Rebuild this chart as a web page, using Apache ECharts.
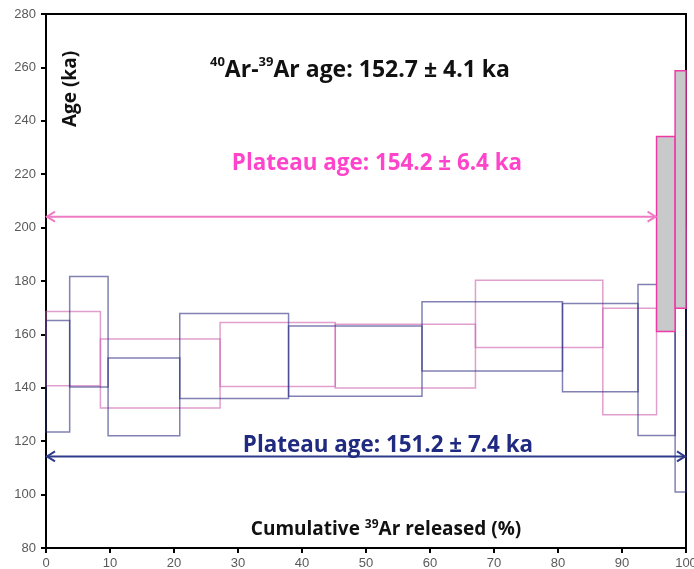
<!DOCTYPE html>
<html><head><meta charset="utf-8">
<script src="https://cdn.jsdelivr.net/npm/echarts@6/dist/echarts.min.js"></script>
<style>html,body{margin:0;padding:0;background:#fff}#c{width:694px;height:569px}</style>
</head><body><div id="c"></div>
<script>
// Step-heating data (cumulative 39Ar released %, age low/high in ka)
const blueEdges = [0, 3.7, 9.7, 20.9, 37.9, 58.75, 80.7, 92.5, 98.3, 100];
const blueLow   = [123.4, 140.3, 122.0, 136.0, 136.8, 146.3, 138.5, 122.1, 101.0];
const blueHigh  = [165.2, 181.7, 151.2, 167.8, 163.1, 172.2, 171.6, 178.7, 200.0];
const pinkEdges = [0, 8.5, 27.2, 45.2, 67.1, 87.0, 95.4];
const pinkLow   = [140.8, 132.4, 140.5, 139.9, 155.1, 129.9];
const pinkHigh  = [168.6, 158.3, 164.5, 163.8, 180.3, 169.8];
const excludedEdges = [95.4, 98.3, 100];
const excludedLow   = [161.1, 169.8];
const excludedHigh  = [234.1, 258.7];
// plateau arrows: [from %, to %, age]
const plateauPink = [0, 95.4, 204.1];
const plateauNavy = [0, 100, 114.3];
const xTickValues = [0, 10, 20, 30, 40, 50, 60, 70, 80, 90, 100];
const yTickValues = [80, 100, 120, 140, 160, 180, 200, 220, 240, 260, 280];

function boxes(edges, low, high) {
  const out = [];
  for (let i = 0; i < low.length; i++) out.push([edges[i], edges[i + 1], low[i], high[i]]);
  return out;
}
function boxItem(stroke, fill, lw) {
  return function (params, api) {
    const p0 = api.coord([api.value(0), api.value(3)]);
    const p1 = api.coord([api.value(1), api.value(2)]);
    return {
      type: 'rect',
      shape: { x: p0[0], y: p0[1], width: p1[0] - p0[0], height: p1[1] - p0[1] },
      style: { fill: fill, stroke: stroke, lineWidth: lw }
    };
  };
}
function arrowItem(color) {
  return function (params, api) {
    const a = api.coord([api.value(0), api.value(2)]);
    const b = api.coord([api.value(1), api.value(2)]);
    const h = 5, w = 9;
    const st = { stroke: color, lineWidth: 2, fill: null };
    return {
      type: 'group', children: [
        { type: 'line', shape: { x1: a[0], y1: a[1], x2: b[0], y2: b[1] }, style: st },
        { type: 'polyline', shape: { points: [[a[0] + w, a[1] - h], [a[0] + 1, a[1]], [a[0] + w, a[1] + h]] }, style: st },
        { type: 'polyline', shape: { points: [[b[0] - w, b[1] - h], [b[0] - 1, b[1]], [b[0] - w, b[1] + h]] }, style: st }
      ]
    };
  };
}

const FONT = '"Open Sans", Lato, sans-serif';
const chart = echarts.init(document.getElementById('c'), null, { renderer: 'canvas' });
chart.setOption({
  animation: false,
  backgroundColor: '#fff',
  grid: { left: 46, right: 8, top: 14, bottom: 21, containLabel: false, outerBoundsMode: 'none',
    show: true, borderColor: '#000', borderWidth: 2, backgroundColor: 'transparent' },
  xAxis: {
    type: 'value', min: 0, max: 100, interval: 10,
    axisLine: { show: true, onZero: false, lineStyle: { color: '#000', width: 2 } },
    axisTick: { show: true, length: 5, lineStyle: { color: '#000', width: 2 } },
    axisLabel: { color: '#595959', fontSize: 13, fontFamily: '"Liberation Sans", Arial, sans-serif', margin: 9,
      formatter: v => xTickValues.includes(v) ? String(v) : '' },
    splitLine: { show: false }
  },
  yAxis: {
    type: 'value', min: 80, max: 280, interval: 20,
    axisLine: { show: true, onZero: false, lineStyle: { color: '#000', width: 2 } },
    axisTick: { show: true, length: 5, lineStyle: { color: '#000', width: 2 } },
    axisLabel: { color: '#595959', fontSize: 13, fontFamily: '"Liberation Sans", Arial, sans-serif', margin: 10,
      formatter: v => yTickValues.includes(v) ? String(v) : '' },
    splitLine: { show: false }
  },
  series: [
    { type: 'custom', name: 'pink steps', renderItem: boxItem('rgba(205,95,175,0.6)', 'transparent', 1.5),
      data: boxes(pinkEdges, pinkLow, pinkHigh), z: 2 },
    { type: 'custom', name: 'blue steps', renderItem: boxItem('rgba(45,45,130,0.6)', 'transparent', 1.5),
      data: boxes(blueEdges, blueLow, blueHigh), z: 3 },
    { type: 'custom', name: 'excluded', renderItem: boxItem('#ee3aa6', '#c8c9cb', 1.5),
      data: boxes(excludedEdges, excludedLow, excludedHigh), z: 4 },
    { type: 'custom', name: 'plateau pink', renderItem: arrowItem('#f07ac4'), data: [plateauPink], z: 5 },
    { type: 'custom', name: 'plateau navy', renderItem: arrowItem('#2e3a8a'), data: [plateauNavy], z: 5 }
  ],
  graphic: [
    { type: 'text', x: 360, y: 70, z: 10, style: {
        text: '{s|40}{b|Ar-}{s|39}{b|Ar age: 152.7 ± 4.1 ka}', align: 'center', verticalAlign: 'middle',
        rich: {
          b: { fontFamily: FONT, fontWeight: 'bold', fontSize: 23, fill: '#111', lineHeight: 28 },
          s: { fontFamily: FONT, fontWeight: 'bold', fontSize: 13, fill: '#111', verticalAlign: 'top', lineHeight: 14 }
        } } },
    { type: 'text', x: 377, y: 164, z: 10, style: {
        text: 'Plateau age: 154.2 ± 6.4 ka', align: 'center', verticalAlign: 'middle',
        font: 'bold 22.4px ' + FONT, fill: '#ff44cc' } },
    { type: 'text', x: 388, y: 446, z: 10, style: {
        text: 'Plateau age: 151.2 ± 7.4 ka', align: 'center', verticalAlign: 'middle',
        font: 'bold 22.4px ' + FONT, fill: '#1f2a80' } },
    { type: 'text', x: 71, y: 89, rotation: Math.PI / 2, z: 10, style: {
        text: 'Age (ka)', align: 'center', verticalAlign: 'middle',
        font: 'bold 19px ' + FONT, fill: '#111' } },
    { type: 'text', x: 386, y: 530, z: 10, style: {
        text: '{b|Cumulative }{s|39}{b|Ar released (%)}', align: 'center', verticalAlign: 'middle',
        rich: {
          b: { fontFamily: FONT, fontWeight: 'bold', fontSize: 19, fill: '#111', lineHeight: 23 },
          s: { fontFamily: FONT, fontWeight: 'bold', fontSize: 12, fill: '#111', verticalAlign: 'top', lineHeight: 13 }
        } } }
  ]
});
</script>
</body></html>
